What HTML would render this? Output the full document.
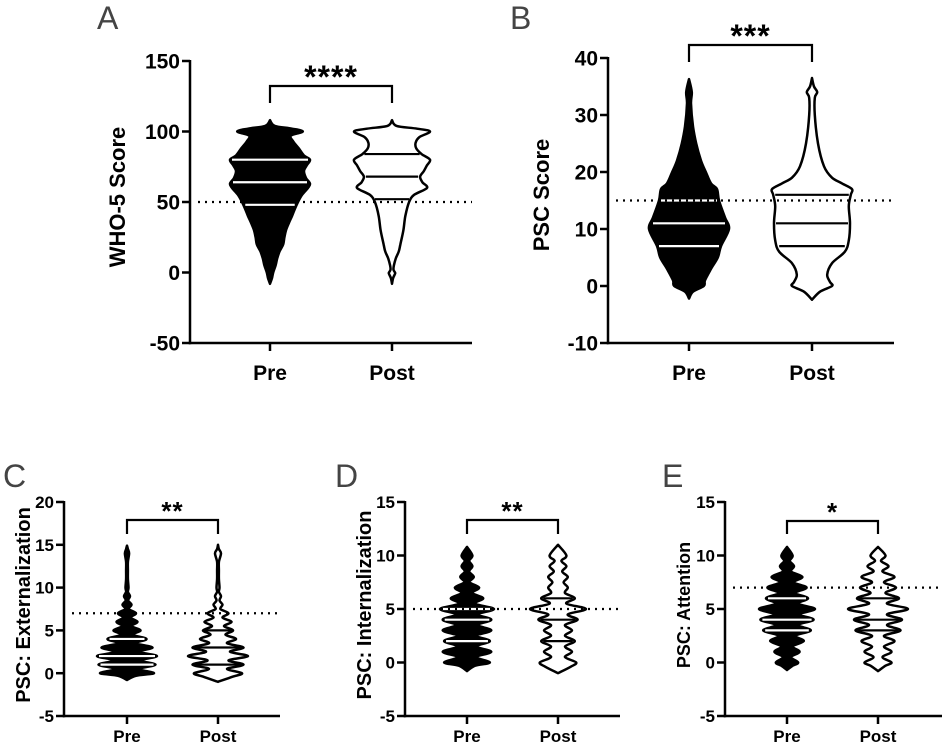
<!DOCTYPE html>
<html><head><meta charset="utf-8">
<style>
html,body{margin:0;padding:0;background:#fff;}
svg{display:block;font-family:"Liberation Sans",Arial,sans-serif;}
</style></head>
<body>
<svg id="fig" width="944" height="745" viewBox="0 0 944 745"></svg>
<script>
// ---------- DATA ----------
const categories = ["Pre", "Post"];
// Panel A: WHO-5
const aTicks = [150, 100, 50, 0, -50];
const aPreVals  = [-8, -4, 0, 5, 10, 15, 20, 25, 30, 35, 40, 45, 50, 55, 60, 63, 67, 72, 76, 80, 83, 88, 93, 97, 100, 102, 104, 108];
const aPreDens  = [0, 0.05, 0.08, 0.14, 0.18, 0.24, 0.33, 0.36, 0.4, 0.47, 0.55, 0.62, 0.7, 0.8, 0.95, 1.0, 0.9, 0.85, 0.92, 1.0, 0.85, 0.72, 0.58, 0.52, 0.82, 0.55, 0.12, 0];
const aPostVals = [-8, -4, -1, 0, 2, 5, 10, 15, 20, 30, 40, 50, 55, 60, 64, 68, 72, 76, 80, 84, 88, 92, 96, 100, 102, 104, 108];
const aPostDens = [0, 0.03, 0.08, 0.08, 0.04, 0.05, 0.1, 0.18, 0.22, 0.3, 0.35, 0.45, 0.58, 0.92, 0.8, 0.74, 0.84, 0.92, 1.0, 0.78, 0.64, 0.62, 0.72, 1.0, 0.66, 0.12, 0];
const aPreQuart = [48, 64, 80];
const aPostQuart = [52, 68, 84];
// Panel B: PSC
const bTicks = [40, 30, 20, 10, 0, -10];
const bPreVals  = [-2.2, -1, 0, 1, 3, 5, 7, 10, 12, 15, 17, 18, 20, 22, 25, 28, 32, 34, 36.3];
const bPreDens  = [0, 0.1, 0.37, 0.4, 0.55, 0.72, 0.8, 1.0, 0.9, 0.75, 0.7, 0.55, 0.42, 0.3, 0.18, 0.1, 0.05, 0.07, 0];
const bPostVals = [-2.4, -1, 0, 0.7, 2, 4, 6, 8, 11, 14, 16, 17, 18, 19, 21, 25, 30, 33, 34, 35, 36.5];
const bPostDens = [0, 0.2, 0.5, 0.45, 0.38, 0.5, 0.82, 0.92, 0.95, 0.92, 0.97, 1.0, 0.75, 0.5, 0.3, 0.15, 0.07, 0.07, 0.13, 0.05, 0];
const bPreQuart = [7, 11, 15];
const bPostQuart = [7, 11, 16];
// Panel C: Externalization
const cTicks = [20, 15, 10, 5, 0, -5];
const cPreVals  = [-0.8,-0.3,0,0.5,1,1.5,2,2.5,3,3.5,4,4.5,5,5.5,6,6.5,7,7.5,8,8.5,9,9.5,10,11,12,13,14,14.5,14.9];
const cPreDens  = [0,0.3,0.9,0.4,0.95,0.45,1.0,0.4,0.85,0.3,0.65,0.2,0.45,0.15,0.35,0.12,0.3,0.06,0.15,0.04,0.1,0.03,0.05,0.03,0.03,0.03,0.07,0.03,0];
const cPostVals = [-1,-0.4,0,0.5,1,1.5,2,2.5,3,3.5,4,4.5,5,5.5,6,6.5,7,7.5,8,8.5,9,9.5,10,11,12,13,14,14.5,15];
const cPostDens = [0,0.5,0.8,0.3,0.85,0.35,1.0,0.4,0.85,0.3,0.6,0.25,0.5,0.2,0.45,0.15,0.35,0.08,0.15,0.05,0.1,0.03,0.05,0.03,0.03,0.03,0.1,0.03,0];
const cPreQuart = [1, 2, 4];
const cPostQuart = [1, 3, 5];
// Panel D: Internalization
const dTicks = [15, 10, 5, 0, -5];
const dPreVals  = [-0.8,-0.3,0,0.5,1,1.5,2,2.5,3,3.5,4,4.5,5,5.5,6,6.5,7,7.5,8,8.5,9,9.5,10,10.8];
const dPreDens  = [0,0.3,0.85,0.35,0.9,0.35,0.85,0.35,0.9,0.4,0.9,0.4,1.0,0.3,0.6,0.2,0.45,0.1,0.25,0.08,0.2,0.08,0.2,0];
const dPostVals = [-1,-0.4,0,0.5,1,1.5,2,2.5,3,3.5,4,4.5,5,5.5,6,6.5,7,7.5,8,8.5,9,9.5,10,11];
const dPostDens = [0,0.45,0.65,0.25,0.5,0.25,0.6,0.25,0.5,0.25,0.7,0.35,1.0,0.3,0.6,0.25,0.35,0.2,0.35,0.15,0.3,0.12,0.3,0];
const dPreQuart = [2, 4, 5];
const dPostQuart = [2, 4, 6];
// Panel E: Attention
const eTicks = [15, 10, 5, 0, -5];
const ePreVals  = [-0.7,-0.3,0,0.5,1,1.5,2,2.5,3,3.5,4,4.5,5,5.5,6,6.5,7,7.5,8,8.5,9,9.5,10,10.8];
const ePreDens  = [0,0.2,0.4,0.15,0.45,0.2,0.6,0.3,0.85,0.4,0.95,0.45,1.0,0.4,0.75,0.3,0.7,0.25,0.55,0.15,0.25,0.1,0.2,0];
const ePostVals = [-0.8,-0.3,0,0.5,1,1.5,2,2.5,3,3.5,4,4.5,5,5.5,6,6.5,7,7.5,8,8.5,9,9.5,10,10.8];
const ePostDens = [0,0.25,0.45,0.15,0.45,0.2,0.55,0.2,0.75,0.3,0.8,0.3,1.0,0.3,0.7,0.25,0.6,0.2,0.55,0.15,0.35,0.1,0.25,0];
const ePreQuart = [3, 4, 6];
const ePostQuart = [3, 4, 6];

// ---------- DRAW ----------
const NS = "http://www.w3.org/2000/svg";
const svg = document.getElementById("fig");
function mk(tag, attrs, parent) {
  const e = document.createElementNS(NS, tag);
  for (const k in attrs) e.setAttribute(k, attrs[k]);
  (parent || svg).appendChild(e);
  return e;
}
function smoothPath(pts) {
  let d = "M" + pts[0][0] + "," + pts[0][1];
  for (let i = 0; i < pts.length - 1; i++) {
    const p0 = pts[Math.max(i - 1, 0)], p1 = pts[i], p2 = pts[i + 1], p3 = pts[Math.min(i + 2, pts.length - 1)];
    const c1x = p1[0] + (p2[0] - p0[0]) / 6, c1y = p1[1] + (p2[1] - p0[1]) / 6;
    const c2x = p2[0] - (p3[0] - p1[0]) / 6, c2y = p2[1] - (p3[1] - p1[1]) / 6;
    d += " C" + c1x.toFixed(1) + "," + c1y.toFixed(1) + " " + c2x.toFixed(1) + "," + c2y.toFixed(1) + " " + p2[0].toFixed(1) + "," + p2[1].toFixed(1);
  }
  return d;
}
function interp(vals, dens, v) {
  for (let i = 0; i < vals.length - 1; i++) {
    if (v >= vals[i] && v <= vals[i + 1]) {
      const t = (v - vals[i]) / (vals[i + 1] - vals[i]);
      return dens[i] + t * (dens[i + 1] - dens[i]);
    }
  }
  return 0;
}
function panel(cfg) {
  const g = mk("g", {});
  
  
  const y = v => cfg.py0 + (v - cfg.v0) * (cfg.py1 - cfg.py0) / (cfg.v1 - cfg.v0);
  const yTop = y(cfg.ticks[0]), yBot = y(cfg.ticks[cfg.ticks.length - 1]);
  const L = mk("text", {x: cfg.letterX, y: cfg.letterY, "font-size": 32, fill: "#444"}, g);
  L.textContent = cfg.letter;
  
  
  const series = [
    {vals: cfg.preVals, dens: cfg.preDens, q: cfg.preQuart, cx: cfg.cx[0], w: cfg.wPre, fill: "#000", line: "#fff", name: "violin-pre"},
    {vals: cfg.postVals, dens: cfg.postDens, q: cfg.postQuart, cx: cfg.cx[1], w: cfg.wPost, fill: "#fff", line: "#000", name: "violin-post"}
  ];
  series.forEach(s => {
    const right = s.vals.map((v, i) => [s.cx + s.dens[i] * s.w, y(v)]);
    const left = s.vals.map((v, i) => [s.cx - s.dens[i] * s.w, y(v)]).reverse();
    const d = smoothPath(right) + " L" + left[0][0].toFixed(1) + "," + left[0][1].toFixed(1) + smoothPath(left).replace(/^M[^ ]+/, "") + " Z";
    const p = mk("path", {d: d, fill: s.fill, stroke: "#000", "stroke-width": 2.5, "stroke-linejoin": "round"}, g);
    
    
    s.q.forEach(qv => {
      const hw = interp(s.vals, s.dens, qv) * s.w - 2;
      const ql = mk("line", {x1: s.cx - hw, x2: s.cx + hw, y1: y(qv), y2: y(qv), stroke: s.line, "stroke-width": 2.2}, g);
      
      
    });
  });
  const ref = mk("line", {x1: cfg.ax + 8, x2: cfg.xEnd, y1: y(cfg.ref), y2: y(cfg.ref), stroke: "#000", "stroke-width": 2.2, "stroke-dasharray": "2,5"}, g);
  
  
  const yax = mk("line", {x1: cfg.ax, x2: cfg.ax, y1: yTop - 1, y2: yBot + 1.2, stroke: "#000", "stroke-width": 2.5}, g);
  
  
  const xax = mk("line", {x1: cfg.ax - 1.2, x2: cfg.xEnd, y1: yBot, y2: yBot, stroke: "#000", "stroke-width": 2.5}, g);
  
  
  cfg.ticks.forEach(t => {
    mk("line", {x1: cfg.ax - 8, x2: cfg.ax, y1: y(t), y2: y(t), stroke: "#000", "stroke-width": 2.5}, g);
    const tl = mk("text", {x: cfg.ax - 10, y: y(t) + cfg.tickFs * 0.36, "font-size": cfg.tickFs, "font-weight": "bold", "text-anchor": "end"}, g);
    tl.textContent = t;
    
    
  });
  categories.forEach((c, i) => {
    mk("line", {x1: cfg.cx[i], x2: cfg.cx[i], y1: yBot, y2: yBot + 8, stroke: "#000", "stroke-width": 2.5}, g);
    const cl = mk("text", {x: cfg.cx[i], y: cfg.catY, "font-size": cfg.catFs, "font-weight": "bold", "text-anchor": "middle"}, g);
    cl.textContent = c;
    
    
  });
  const yt = mk("text", {x: 0, y: 0, "font-size": cfg.titleFs, "font-weight": "bold", "text-anchor": "middle", transform: "translate(" + cfg.titleX + "," + cfg.titleY + ") rotate(-90)"}, g);
  yt.textContent = cfg.title;
  
  
  const br = mk("path", {d: "M" + cfg.cx[0] + "," + cfg.brLeg + " V" + cfg.brY + " H" + cfg.cx[1] + " V" + cfg.brLeg, fill: "none", stroke: "#000", "stroke-width": 2.2}, g);
  
  
  const st = mk("text", {x: (cfg.cx[0] + cfg.cx[1]) / 2, y: cfg.starY, "font-size": cfg.starFs, "font-weight": "bold", "text-anchor": "middle", "letter-spacing": 1}, g);
  st.textContent = cfg.stars;
  
  
}

panel({name: "panel-a-who5", letter: "A", letterX: 97, letterY: 29, ticks: aTicks, v0: 150, v1: -50, py0: 61, py1: 343,
  ax: 190, xEnd: 472, cx: [270, 392], ref: 50, wPre: 40, wPost: 38,
  preVals: aPreVals, preDens: aPreDens, postVals: aPostVals, postDens: aPostDens, preQuart: aPreQuart, postQuart: aPostQuart,
  tickFs: 21, catFs: 21, catY: 380, title: "WHO-5 Score", titleFs: 22, titleX: 125, titleY: 197,
  brY: 86, brLeg: 103, stars: "****", starY: 88, starFs: 32});
panel({name: "panel-b-psc", letter: "B", letterX: 510, letterY: 29, ticks: bTicks, v0: 40, v1: -10, py0: 58, py1: 343,
  ax: 608, xEnd: 894, cx: [689, 812], ref: 15, wPre: 40, wPost: 40,
  preVals: bPreVals, preDens: bPreDens, postVals: bPostVals, postDens: bPostDens, preQuart: bPreQuart, postQuart: bPostQuart,
  tickFs: 21, catFs: 21, catY: 380, title: "PSC Score", titleFs: 22, titleX: 549, titleY: 195,
  brY: 45, brLeg: 62, stars: "***", starY: 47, starFs: 32});
panel({name: "panel-c-externalization", letter: "C", letterX: 3, letterY: 487, ticks: cTicks, v0: 20, v1: -5, py0: 502, py1: 716,
  ax: 64, xEnd: 280, cx: [127, 218], ref: 7, wPre: 30, wPost: 30,
  preVals: cPreVals, preDens: cPreDens, postVals: cPostVals, postDens: cPostDens, preQuart: cPreQuart, postQuart: cPostQuart,
  tickFs: 17, catFs: 17, catY: 742, title: "PSC: Externalization", titleFs: 20, titleX: 30, titleY: 605,
  brY: 520, brLeg: 534, stars: "**", starY: 520, starFs: 26});
panel({name: "panel-d-internalization", letter: "D", letterX: 335, letterY: 487, ticks: dTicks, v0: 15, v1: -5, py0: 502, py1: 716,
  ax: 405, xEnd: 620, cx: [467, 558], ref: 5, wPre: 27, wPost: 28,
  preVals: dPreVals, preDens: dPreDens, postVals: dPostVals, postDens: dPostDens, preQuart: dPreQuart, postQuart: dPostQuart,
  tickFs: 17, catFs: 17, catY: 742, title: "PSC: Internalization", titleFs: 20, titleX: 371, titleY: 605,
  brY: 520, brLeg: 534, stars: "**", starY: 520, starFs: 26});
panel({name: "panel-e-attention", letter: "E", letterX: 662, letterY: 487, ticks: eTicks, v0: 15, v1: -5, py0: 502, py1: 716,
  ax: 725, xEnd: 942, cx: [787, 878], ref: 7, wPre: 28, wPost: 30,
  preVals: ePreVals, preDens: ePreDens, postVals: ePostVals, postDens: ePostDens, preQuart: ePreQuart, postQuart: ePostQuart,
  tickFs: 17, catFs: 17, catY: 742, title: "PSC: Attention", titleFs: 18, titleX: 690, titleY: 605,
  brY: 521, brLeg: 534, stars: "*", starY: 521, starFs: 26});
</script>
</body></html>
